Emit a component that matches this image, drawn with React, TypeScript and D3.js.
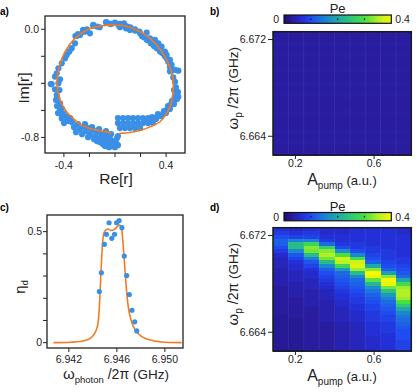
import React from "react";
import * as d3 from "d3";

// ---- a) reflection coefficient r: measured points (Re, Im) and circle fit
const reflection: [number, number][] = [
  [-0.17, 0.032], [-0.07, 0.052], [-0.04, 0.04], [-0.12, 0.015], [-0.22, 0.0], [-0.25, -0.005],
  [-0.29, -0.035], [-0.31, -0.05], [-0.235, -0.017], [-0.14, 0.02], [0.0, 0.05], [0.04, 0.04],
  [0.08, 0.025], [0.086, 0.007], [0.12, 0.015], [0.156, 0.0], [0.19, -0.017], [0.21, -0.05],
  [0.227, -0.06], [0.25, -0.08], [0.28, -0.104], [0.305, -0.123], [0.326, -0.14], [0.352, -0.165],
  [0.373, -0.178], [0.39, -0.198], [0.404, -0.215], [0.417, -0.24], [0.43, -0.277], [0.443, -0.306],
  [0.496, -0.306], [0.456, -0.356], [0.47, -0.388], [0.477, -0.43], [0.496, -0.5], [0.456, -0.523],
  [0.43, -0.56], [0.404, -0.598], [0.378, -0.622], [0.326, -0.652], [0.287, -0.672], [0.248, -0.684],
  [-0.065, 0.049], [-0.026, 0.04], [0.026, 0.032], [0.039, 0.015], [0.07, 0.044], [0.097, 0.02],
  [0.117, -0.005], [0.156, -0.01], [0.196, -0.03], [0.248, -0.025], [0.222, -0.054], [0.274, -0.067],
  [0.313, -0.079], [0.339, -0.104], [0.365, -0.128], [0.391, -0.165], [0.404, -0.19], [0.43, -0.227],
  [0.443, -0.264], [0.47, -0.3], [0.43, -0.311], [-0.17, 0.025], [-0.196, -0.03], [-0.248, -0.017],
  [-0.274, -0.042], [-0.3, -0.05], [-0.313, -0.104], [-0.339, -0.14], [-0.357, -0.165], [-0.378, -0.19],
  [-0.391, -0.215], [-0.417, -0.252], [-0.443, -0.289], [-0.456, -0.326], [-0.47, -0.35], [-0.496, -0.405],
  [-0.43, -0.37], [-0.503, -0.405], [-0.47, -0.444], [-0.456, -0.486], [-0.451, -0.511], [-0.43, -0.548],
  [-0.417, -0.585], [-0.404, -0.622], [-0.378, -0.647], [-0.352, -0.659], [-0.417, -0.659], [-0.435, -0.45],
  [-0.443, -0.4],
  // bottom-left band
  [-0.462, -0.524], [-0.454, -0.568], [-0.43, -0.598], [-0.415, -0.642], [-0.446, -0.62], [-0.391, -0.657],
  [-0.368, -0.679], [-0.399, -0.694], [-0.336, -0.687], [-0.321, -0.724], [-0.29, -0.701], [-0.274, -0.739],
  [-0.243, -0.716], [-0.227, -0.753], [-0.211, -0.731], [-0.196, -0.776], [-0.172, -0.746], [-0.156, -0.79],
  [-0.141, -0.761], [-0.117, -0.805], [-0.102, -0.776], [-0.086, -0.82], [-0.07, -0.79], [-0.055, -0.842],
  [-0.039, -0.813], [-0.023, -0.864], [-0.016, -0.827], [0.0, -0.872], [0.008, -0.842], [0.016, -0.805],
  [-0.031, -0.776], [-0.07, -0.753], [-0.125, -0.739], [-0.18, -0.724], [-0.235, -0.701], [-0.352, -0.657],
  [-0.008, -0.864], [-0.047, -0.872], [-0.094, -0.85], [-0.141, -0.827], [0.023, -0.857], [0.023, -0.79],
  [-0.305, -0.761], [-0.258, -0.776], [-0.211, -0.798], [-0.164, -0.813], [-0.117, -0.835], [-0.078, -0.864],
  [-0.031, -0.864],
  // bottom-right blob
  [0.023, -0.657], [0.063, -0.657], [0.102, -0.657], [0.141, -0.657], [0.18, -0.657], [0.219, -0.657],
  [0.258, -0.657], [0.023, -0.694], [0.063, -0.694], [0.102, -0.694], [0.141, -0.694], [0.18, -0.694],
  [0.219, -0.694], [0.258, -0.694], [0.297, -0.694], [0.039, -0.731], [0.078, -0.731], [0.117, -0.731],
  [0.156, -0.731], [0.196, -0.731], [0.29, -0.65], [0.321, -0.664], [0.336, -0.627], [0.36, -0.642],
  [0.383, -0.605], [0.399, -0.62], [0.415, -0.568], [0.43, -0.59], [0.446, -0.531], [0.462, -0.553],
  [0.469, -0.494], [0.485, -0.516], [0.493, -0.464], [0.462, -0.45],
];

const reflectionFit: [number, number][] = [
  [-0.031, -0.766], [-0.143, -0.746], [-0.196, -0.733], [-0.274, -0.701], [-0.326, -0.66], [-0.378, -0.612],
  [-0.43, -0.524], [-0.454, -0.4], [-0.436, -0.277], [-0.391, -0.166], [-0.313, -0.067], [-0.209, 0.0],
  [-0.092, 0.027], [0.0, 0.032], [0.104, 0.019], [0.221, -0.03], [0.326, -0.116], [0.405, -0.227],
  [0.451, -0.351], [0.456, -0.45], [0.43, -0.573], [0.352, -0.684], [0.274, -0.721], [0.221, -0.742],
  [0.117, -0.764], [0.034, -0.77],
];

// ---- c) eta_d vs photon frequency (GHz)
const photonFreq = [6.94454, 6.94471, 6.94496, 6.94513, 6.94535, 6.94558, 6.94581, 6.94598,
  6.94619, 6.94642, 6.94662, 6.94682, 6.94704, 6.94726, 6.94749, 6.94766];
const etaD = [0.23, 0.315, 0.443, 0.488, 0.54, 0.47, 0.488, 0.54, 0.55, 0.518, 0.39, 0.302,
  0.217, 0.146, 0.094, 0.053];
const etaFitFreq = [6.94072, 6.94213, 6.94297, 6.94347, 6.94381, 6.94406, 6.94423, 6.94443, 6.94451,
  6.94459, 6.94469, 6.9448, 6.94491, 6.94507, 6.94527, 6.94549, 6.94577, 6.94606, 6.94623, 6.9464,
  6.94652, 6.94667, 6.9468, 6.94693, 6.94704, 6.94732, 6.94774, 6.94859, 6.9497, 6.95139];
const etaFit = [0.0, 0.002, 0.005, 0.012, 0.02, 0.035, 0.05, 0.088, 0.133, 0.211, 0.333, 0.441, 0.491,
  0.507, 0.512, 0.505, 0.509, 0.524, 0.53, 0.512, 0.441, 0.333, 0.238, 0.17, 0.133, 0.08, 0.042, 0.015,
  0.003, 0.0];

// ---- b), d) Pe maps: pump amplitude columns, pump frequency rows (GHz)
const aPump = [0.125, 0.203, 0.281, 0.359, 0.438, 0.516, 0.594, 0.672, 0.75];
const pumpFreq = [6.6725, 6.6722, 6.6719, 6.6716, 6.6713, 6.671, 6.6707, 6.6704, 6.6701, 6.6698,
  6.6695, 6.6692, 6.6689, 6.6686, 6.6683, 6.668, 6.6677, 6.6674, 6.6671, 6.6668, 6.6665, 6.6662,
  6.6659, 6.6656, 6.6653, 6.665, 6.6647, 6.6644, 6.6641, 6.6638, 6.6635, 6.6632, 6.6629, 6.6626];

// b) no drive: flat background (same in every column)
const peOff = [0.03, 0.03, 0.03, 0.035, 0.03, 0.03, 0.035, 0.03, 0.03, 0.03, 0.035, 0.03, 0.03, 0.03,
  0.035, 0.03, 0.03, 0.035, 0.03, 0.03, 0.03, 0.03, 0.035, 0.03, 0.03, 0.03, 0.03, 0.035, 0.03, 0.03,
  0.035, 0.03, 0.03, 0.03];

// d) with drive, one column per aPump value
const peOn = [
  [0.07, 0.08, 0.10, 0.12, 0.12, 0.10, 0.08, 0.06, 0.05, 0.05, 0.05, 0.04, 0.04, 0.04, 0.04, 0.04, 0.03,
    0.03, 0.03, 0.03, 0.03, 0.03, 0.03, 0.03, 0.025, 0.025, 0.025, 0.025, 0.025, 0.025, 0.025, 0.025, 0.025, 0.025],
  [0.06, 0.07, 0.09, 0.15, 0.23, 0.23, 0.16, 0.11, 0.09, 0.07, 0.06, 0.06, 0.05, 0.05, 0.05, 0.04, 0.04,
    0.04, 0.04, 0.03, 0.03, 0.03, 0.03, 0.03, 0.03, 0.025, 0.025, 0.025, 0.025, 0.025, 0.025, 0.025, 0.025, 0.025],
  [0.07, 0.08, 0.09, 0.15, 0.28, 0.33, 0.32, 0.23, 0.15, 0.11, 0.09, 0.07, 0.06, 0.06, 0.05, 0.05, 0.05,
    0.04, 0.04, 0.04, 0.04, 0.04, 0.03, 0.03, 0.03, 0.03, 0.03, 0.03, 0.03, 0.03, 0.03, 0.03, 0.03, 0.03],
  [0.06, 0.06, 0.07, 0.08, 0.13, 0.26, 0.33, 0.35, 0.32, 0.23, 0.16, 0.12, 0.10, 0.09, 0.08, 0.07, 0.06,
    0.05, 0.05, 0.05, 0.04, 0.04, 0.04, 0.04, 0.04, 0.04, 0.03, 0.03, 0.03, 0.03, 0.03, 0.03, 0.03, 0.03],
  [0.06, 0.06, 0.07, 0.07, 0.08, 0.10, 0.17, 0.30, 0.37, 0.36, 0.28, 0.18, 0.13, 0.12, 0.11, 0.10, 0.09,
    0.08, 0.07, 0.07, 0.06, 0.06, 0.05, 0.05, 0.05, 0.05, 0.04, 0.04, 0.04, 0.04, 0.04, 0.04, 0.04, 0.04],
  [0.07, 0.07, 0.07, 0.07, 0.08, 0.08, 0.10, 0.16, 0.29, 0.37, 0.38, 0.34, 0.23, 0.16, 0.13, 0.12, 0.11,
    0.10, 0.09, 0.08, 0.08, 0.07, 0.07, 0.06, 0.06, 0.06, 0.05, 0.05, 0.05, 0.05, 0.05, 0.05, 0.05, 0.05],
  [0.07, 0.07, 0.07, 0.07, 0.07, 0.08, 0.08, 0.09, 0.10, 0.12, 0.20, 0.33, 0.40, 0.39, 0.31, 0.22, 0.17,
    0.14, 0.12, 0.11, 0.10, 0.09, 0.09, 0.08, 0.08, 0.08, 0.07, 0.07, 0.07, 0.07, 0.06, 0.06, 0.06, 0.06],
  [0.07, 0.07, 0.07, 0.07, 0.07, 0.07, 0.08, 0.08, 0.08, 0.09, 0.10, 0.12, 0.19, 0.33, 0.40, 0.39, 0.32,
    0.24, 0.18, 0.15, 0.13, 0.12, 0.11, 0.10, 0.09, 0.09, 0.08, 0.08, 0.08, 0.07, 0.07, 0.07, 0.07, 0.07],
  [0.06, 0.06, 0.07, 0.07, 0.07, 0.07, 0.07, 0.07, 0.08, 0.08, 0.09, 0.10, 0.11, 0.13, 0.20, 0.29, 0.34,
    0.35, 0.35, 0.34, 0.30, 0.25, 0.20, 0.16, 0.14, 0.13, 0.12, 0.11, 0.10, 0.10, 0.10, 0.09, 0.09, 0.09],
];

// colour map for Pe
const peStops = [0, 0.03, 0.07, 0.1, 0.15, 0.2, 0.25, 0.3, 0.35, 0.4];
const peColors = ["#1a0f66", "#2a1c9e", "#2330d8", "#1f4cf0", "#1a80d8", "#20a8a8", "#30c878",
  "#48e040", "#b0f028", "#f8f800"];

const FONT = "'Liberation Sans', Arial, Helvetica, sans-serif";
const BLUE = "#3a8fe6";
const ORANGE = "#f47a20";
const INK = "#222";

const peColor = d3.scaleLinear<string>().domain(peStops).range(peColors).clamp(true);

function PanelA() {
  const x = d3.scaleLinear().domain([-0.548, 0.548]).range([45, 185]);
  const y = d3.scaleLinear().domain([-0.915, 0.098]).range([153, 16]);
  const line = d3.line<[number, number]>().x((d) => x(d[0])).y((d) => y(d[1])).curve(d3.curveCatmullRom);
  const xt = [-0.4, -0.2, 0, 0.2, 0.4];
  const yt = [0, -0.2, -0.4, -0.6, -0.8];
  return (
    <g>
      <text x={0} y={15} fontSize={10} fontWeight="bold">a)</text>
      {reflection.map((d, i) => (
        <circle key={i} cx={x(d[0])} cy={y(d[1])} r={3.1} fill={BLUE} />
      ))}
      <path d={line(reflectionFit) || ""} fill="none" stroke={ORANGE} strokeWidth={1.6} />
      <rect x={45} y={16} width={140} height={137} fill="none" stroke={INK} strokeWidth={1.3} />
      {xt.map((t) => (
        <line key={t} x1={x(t)} x2={x(t)} y1={153} y2={157} stroke={INK} />
      ))}
      {yt.map((t) => (
        <line key={t} x1={41} x2={45} y1={y(t)} y2={y(t)} stroke={INK} />
      ))}
      <text x={x(-0.4)} y={168.5} textAnchor="middle" fontSize={10.5} fill={INK}>-0.4</text>
      <text x={x(0.4)} y={168.5} textAnchor="middle" fontSize={10.5} fill={INK}>0.4</text>
      <text x={39} y={y(0) + 3.8} textAnchor="end" fontSize={10.5} fill={INK}>0.0</text>
      <text x={39} y={y(-0.8) + 3.8} textAnchor="end" fontSize={10.5} fill={INK}>-0.8</text>
      <text x={116} y={184} textAnchor="middle" fontSize={15.5} fill={INK}>Re[r]</text>
      <text transform="translate(29,88) rotate(-90)" textAnchor="middle" fontSize={15.5} fill={INK}>Im[r]</text>
    </g>
  );
}

function PanelC() {
  const x = d3.scaleLinear().domain([6.94018, 6.95151]).range([47, 183]);
  const y = d3.scaleLinear().domain([-0.024, 0.575]).range([348, 215]);
  const fit = etaFitFreq.map((f, i) => [f, etaFit[i]] as [number, number]);
  const line = d3.line<[number, number]>().x((d) => x(d[0])).y((d) => y(d[1])).curve(d3.curveMonotoneX);
  const yt = [0, 0.1, 0.2, 0.3, 0.4, 0.5];
  const xt = [6.942, 6.946, 6.95];
  return (
    <g>
      <text x={0} y={211} fontSize={10} fontWeight="bold">c)</text>
      <path d={line(fit) || ""} fill="none" stroke={ORANGE} strokeWidth={1.6} />
      {photonFreq.map((f, i) => (
        <circle key={i} cx={x(f)} cy={y(etaD[i])} r={2.6} fill={BLUE} />
      ))}
      <rect x={47} y={215} width={136} height={133} fill="none" stroke={INK} strokeWidth={1.3} />
      {yt.map((t) => (
        <line key={t} x1={43} x2={47} y1={y(t)} y2={y(t)} stroke={INK} />
      ))}
      {xt.map((t) => (
        <line key={t} x1={x(t)} x2={x(t)} y1={348} y2={352} stroke={INK} />
      ))}
      {xt.map((t) => (
        <text key={t} x={x(t)} y={363} textAnchor="middle" fontSize={10.5} fill={INK}>{t.toFixed(3)}</text>
      ))}
      <text x={42} y={y(0.5) + 3.8} textAnchor="end" fontSize={10.5} fill={INK}>0.5</text>
      <text x={42} y={y(0) + 3.8} textAnchor="end" fontSize={10.5} fill={INK}>0</text>
      <text x={116} y={379} textAnchor="middle" fill={INK} fontSize={15}>
        ω<tspan fontSize={9.5} dy={4}>photon</tspan>
        <tspan fontSize={14} dy={-4}> /2π </tspan>
        <tspan fontSize={13.5}>(GHz)</tspan>
      </text>
      <text transform="translate(25,287) rotate(-90)" textAnchor="middle" fill={INK} fontSize={15}>
        η<tspan fontSize={9} dy={3}>d</tspan>
      </text>
    </g>
  );
}

function PeMap({ top, values, label, gradId, tickY, titleY }: {
  top: number; values: (col: number, row: number) => number; label: string; gradId: string;
  tickY: number; titleY: number;
}) {
  const bottom = top + 123.3;
  const x = d3.scaleLinear().domain([0.086, 0.789]).range([273, 411.3]);
  const y = d3.scaleLinear().domain([6.66245, 6.67265]).range([bottom, top]);
  const da = aPump[1] - aPump[0];
  const df = pumpFreq[0] - pumpFreq[1];
  const cb = d3.scaleLinear().domain([0, 0.4]).range([284, 391.3]);
  const cbTop = label === "b)" ? 15 : 212.5;
  const cbH = 8.3;
  const off = label === "b)" ? 0 : 196;
  return (
    <g>
      <text x={210} y={15 + off} fontSize={10} fontWeight="bold">{label}</text>
      <defs>
        <linearGradient id={gradId} x1="0" x2="1" y1="0" y2="0">
          {peStops.map((s, i) => (
            <stop key={i} offset={s / 0.4} stopColor={peColors[i]} />
          ))}
        </linearGradient>
      </defs>
      <text x={cb(0.2)} y={cbTop - 2} textAnchor="middle" fontSize={13} fill={INK}>Pe</text>
      <rect x={cb(0)} y={cbTop} width={cb(0.4) - cb(0)} height={cbH} fill={`url(#${gradId})`} stroke="#111" strokeWidth={1.2} />
      {[0.1, 0.2, 0.3].map((t) => (
        <rect key={t} x={cb(t) - 0.6} y={cbTop + cbH / 2 - 0.8} width={1.2} height={1.6} fill="#111" />
      ))}
      <text x={cb(0) - 5} y={cbTop + 8} textAnchor="end" fontSize={10.5} fill={INK}>0</text>
      <text x={cb(0.4) + 4} y={cbTop + 8} fontSize={10.5} fill={INK}>0.4</text>
      <g shapeRendering="crispEdges">
        {aPump.map((a, ci) =>
          pumpFreq.map((f, ri) => (
            <rect key={ci + "-" + ri}
              x={x(a - da / 2)} y={y(f + df / 2)}
              width={x(a + da / 2) - x(a - da / 2) + 0.5}
              height={y(f - df / 2) - y(f + df / 2) + 0.5}
              fill={peColor(values(ci, ri))} />
          ))
        )}
      </g>
      {aPump.slice(1).map((a) => (
        <line key={a} x1={x(a - da / 2)} x2={x(a - da / 2)} y1={top} y2={bottom} stroke="#fff" strokeOpacity={0.07} />
      ))}
      <rect x={273} y={top} width={138.3} height={123.3} fill="none" stroke="#1a1a1a" strokeWidth={1.5} />
      {[6.672, 6.664].map((t) => (
        <g key={t}>
          <line x1={268} x2={273} y1={y(t)} y2={y(t)} stroke={INK} />
          <text x={266} y={y(t) + 3.8} textAnchor="end" fontSize={10.5} fill={INK}>{t.toFixed(3)}</text>
        </g>
      ))}
      {[0.2, 0.6].map((t) => (
        <g key={t}>
          <line x1={x(t)} x2={x(t)} y1={bottom} y2={bottom + 4} stroke={INK} />
          <text x={x(t)} y={tickY} textAnchor="middle" fontSize={10.5} fill={INK}>{t.toFixed(1)}</text>
        </g>
      ))}
      <text x={342} y={titleY} textAnchor="middle" fill={INK} fontSize={16}>
        A<tspan fontSize={10} dy={4}>pump</tspan>
        <tspan fontSize={13} dy={-4}> (a.u.)</tspan>
      </text>
      <text transform={`translate(238,${top + 56.5}) rotate(-90)`} textAnchor="middle" fill={INK} fontSize={15}>
        ω<tspan fontSize={10} dy={4}>p</tspan>
        <tspan fontSize={14} dy={-4}> /2π </tspan>
        <tspan fontSize={13.5}>(GHz)</tspan>
      </text>
    </g>
  );
}

export default function App() {
  return (
    <svg width={416} height={392} style={{ position: "absolute", left: 0, top: 0, background: "#fff" }}
      fontFamily={FONT}>
      <PanelA />
      <PeMap top={31.7} values={(c, r) => peOff[r]} label="b)" gradId="peGradB" tickY={167} titleY={185} />
      <PanelC />
      <PeMap top={227.7} values={(c, r) => peOn[c][r]} label="d)" gradId="peGradD" tickY={363} titleY={381} />
    </svg>
  );
}
